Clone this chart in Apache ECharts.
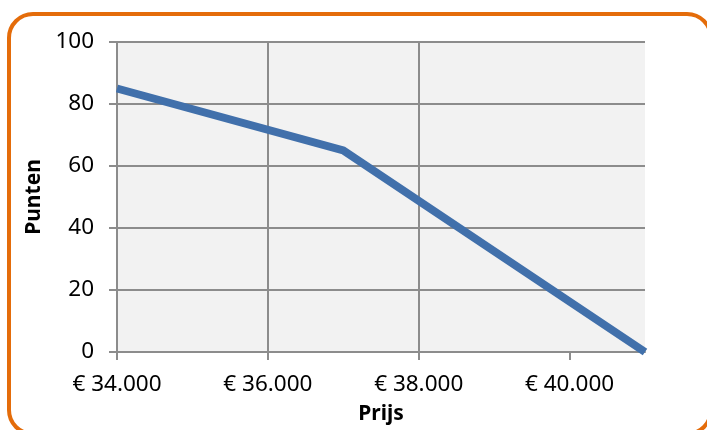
<!DOCTYPE html>
<html><head><meta charset="utf-8">
<script src="https://cdn.jsdelivr.net/npm/echarts@6/dist/echarts.min.js"></script>
<style>
html,body{margin:0;padding:0;background:#fff;overflow:hidden;}
#frame{position:absolute;left:7px;top:12px;width:706px;height:424px;box-sizing:border-box;border:4px solid #e46c0a;border-radius:26px;}
#c{position:absolute;left:0;top:0;width:707px;height:430px;}
</style></head>
<body>
<div id="frame"></div>
<div id="c"></div>
<script>
const prices = [34000, 37000, 41000];
const points = [85, 65, 0];
const xTicks = [34000, 36000, 38000, 40000];
const yTicks = [0, 20, 40, 60, 80, 100];
const xTitle = 'Prijs';
const yTitle = 'Punten';

function euro(v){ return '€ ' + String(v).replace(/\B(?=(\d{3})+(?!\d))/g, '.'); }

const gridColor = '#8c8c8c';
const chart = echarts.init(document.getElementById('c'));
chart.setOption({
  animation: false,
  grid: {left: 117, right: 62, top: 42, bottom: 78, show: true, backgroundColor: '#f2f2f2', borderWidth: 0},
  xAxis: {
    type: 'value', min: 34000, max: 41000, interval: 2000,
    name: xTitle, nameLocation: 'middle', nameGap: 52,
    nameTextStyle: {fontFamily: 'Noto Sans', fontSize: 21, fontWeight: 'bold', color: '#000'},
    axisLine: {show: true, lineStyle: {color: gridColor, width: 2}},
    axisTick: {show: true, length: 8, lineStyle: {color: gridColor, width: 2}, customValues: xTicks},
    axisLabel: {fontFamily: 'Noto Sans', fontSize: 22.5, color: '#000', margin: 21, formatter: euro, customValues: xTicks},
    splitLine: {show: true, showMaxLine: false, lineStyle: {color: gridColor, width: 2}}
  },
  yAxis: {
    type: 'value', min: 0, max: 100, interval: 20,
    name: yTitle, nameLocation: 'middle', nameGap: 71, nameRotate: 90,
    nameTextStyle: {fontFamily: 'Noto Sans', fontSize: 21, fontWeight: 'bold', color: '#000'},
    axisLine: {show: true, lineStyle: {color: gridColor, width: 2}},
    axisTick: {show: true, length: 8, lineStyle: {color: gridColor, width: 2}},
    axisLabel: {fontFamily: 'Noto Sans', fontSize: 22.5, color: '#000', margin: 23},
    splitLine: {show: true, lineStyle: {color: gridColor, width: 2}}
  },
  series: [{
    type: 'line',
    data: prices.map((p, i) => [p, points[i]]),
    symbol: 'none',
    lineStyle: {color: '#4170ab', width: 8, join: 'miter'},
    clip: false
  }]
});
</script>
</body></html>
